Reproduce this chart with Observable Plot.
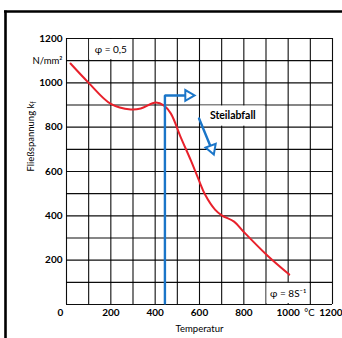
<!DOCTYPE html>
<html><head><meta charset="utf-8">
<script src="https://cdn.jsdelivr.net/npm/d3@7"></script>
<script src="https://cdn.jsdelivr.net/npm/@observablehq/plot@0.6"></script>
<style>body{margin:0;background:#fff} svg{display:block}</style>
</head><body><div id="chart"></div>
<script>
// Flow stress curve (Temperatur °C, Fließspannung N/mm²)
const temperature = [18, 100, 200, 290, 335, 403, 440, 471, 516, 561, 598, 625, 670, 702, 756, 802, 906, 1005];
const stress      = [1087, 1000, 905, 880, 884, 911, 897, 861, 753, 650, 559, 496, 428, 401, 374, 325, 221, 135];

// tick labels
const xTickValues = [200, 400, 600, 800, 1000];
const xLastTick = 1200;
const xUnitLabel = "°C";
const xUnitPos = 1100;
const yTickValues = [200, 400, 600, 800, 1000, 1200];
const yUnitLabel = "N/mm²";
const yUnitPos = 1100;
const gridValues = d3.range(0, 1201, 100);

// blue annotation: vertical line with arrow to the right
const arrow1T = [444, 444, 534];
const arrow1K = [5, 943, 943];
const head1 = {t: 550, k: 943};
// blue annotation: diagonal arrow "Steilabfall"
const arrow2T = [598, 649];
const arrow2K = [839, 715];
const head2 = {t: 655, k: 703};

// annotation labels and their white boxes
const labels = [
  {text: "φ = 0,5", t: 200, k: 1150, x1: 100, x2: 300, y1: 1100, y2: 1200, bold: false},
  {text: "Steilabfall", t: 750, k: 850, x1: 600, x2: 900, y1: 800, y2: 900, bold: true},
  {text: "φ = 8S⁻¹", t: 1000, k: 50, x1: 900, x2: 1100, y1: 0, y2: 100, bold: false}
];

const curve = temperature.map((t, i) => ({t, k: stress[i]}));
const a1 = arrow1T.map((t, i) => ({t, k: arrow1K[i]}));
const a2 = arrow2T.map((t, i) => ({t, k: arrow2K[i]}));
const blue = "#1a75c8";
const font = "Lato, 'Open Sans', sans-serif";

const plot = Plot.plot({
  width: 342, height: 338,
  marginLeft: 66, marginRight: 10, marginTop: 38, marginBottom: 34,
  style: {fontFamily: font, background: "#fff", color: "#000"},
  x: {domain: [0, 1200], axis: null},
  y: {domain: [0, 1200], axis: null},
  marks: [
    Plot.gridX(gridValues, {stroke: "#000", strokeOpacity: 0.95, strokeWidth: 1.1}),
    Plot.gridY(gridValues, {stroke: "#000", strokeOpacity: 0.95, strokeWidth: 1.1}),
    Plot.rect(labels, {x1: "x1", x2: "x2", y1: "y1", y2: "y2", fill: "#fff", inset: 1}),
    Plot.line(curve, {x: "t", y: "k", curve: "catmull-rom", stroke: "#e8212b", strokeWidth: 2}),
    Plot.line(a1, {x: "t", y: "k", stroke: blue, strokeWidth: 2.4, strokeLinejoin: "miter"}),
    Plot.dot([head1], {x: "t", y: "k", symbol: "triangle", r: 4, rotate: 90, fill: "#fff", stroke: blue, strokeWidth: 2}),
    Plot.line(a2, {x: "t", y: "k", stroke: blue, strokeWidth: 2.4}),
    Plot.dot([head2], {x: "t", y: "k", symbol: "triangle", r: 4, rotate: 160, fill: "#fff", stroke: blue, strokeWidth: 2}),
    Plot.text(labels.filter(d => !d.bold), {x: "t", y: "k", text: "text", fontSize: 10, fill: "#000"}),
    Plot.text(labels.filter(d => d.bold), {x: "t", y: "k", text: "text", fontSize: 10.5, fontWeight: "bold", fill: "#000"}),
    // x tick labels
    Plot.text(xTickValues, {x: d => d, y: 0, dy: 8, text: d => String(d), fontSize: 10, fontWeight: "bold", fill: "#000"}),
    Plot.text([xLastTick], {x: d => d, y: 0, dy: 8, textAnchor: "end", dx: 10, text: d => String(d), fontSize: 10, fontWeight: "bold", fill: "#000"}),
    Plot.text([0], {x: d => d, y: 0, dy: 8, dx: -6, text: d => String(d), fontSize: 10, fontWeight: "bold", fill: "#000"}),
    Plot.text([xUnitPos], {x: d => d, y: 0, dy: 8, dx: -1, text: () => xUnitLabel, fontSize: 9.5, fill: "#000"}),
    // y tick labels
    Plot.text(yTickValues, {x: 0, y: d => d, dx: -4, textAnchor: "end", text: d => String(d), fontSize: 10, fontWeight: "bold", fill: "#000"}),
    Plot.text([yUnitPos], {x: 0, y: d => d, dx: -4, textAnchor: "end", text: () => yUnitLabel, fontSize: 9.5, fill: "#000"}),
    // axis titles
    Plot.text(["Temperatur"], {frameAnchor: "bottom", dy: 27, text: d => d, fontSize: 9.5, fill: "#000"}),
    Plot.text(["Fließspannung kf"], {frameAnchor: "left", dx: -36, rotate: -90, text: d => d, fontSize: 9.5, fill: "#000"})
  ]
});

// subscript f in the y-axis title
d3.select(plot).selectAll("text").each(function() {
  if (this.textContent === "Fließspannung kf") {
    const t = d3.select(this);
    t.text(null);
    t.append("tspan").text("Fließspannung k");
    t.append("tspan").attr("font-size", 7).attr("dy", "0.35em").text("f");
  }
});

// outer frame (top and left border)
const svg = d3.select(plot);
svg.append("line").attr("x1", 4).attr("x2", 342).attr("y1", 11.5).attr("y2", 11.5).attr("stroke", "#000").attr("stroke-width", 2.6);
svg.append("line").attr("x1", 5.5).attr("x2", 5.5).attr("y1", 10.5).attr("y2", 338).attr("stroke", "#000").attr("stroke-width", 2.6);

document.getElementById("chart").appendChild(plot);
</script>
</body></html>
